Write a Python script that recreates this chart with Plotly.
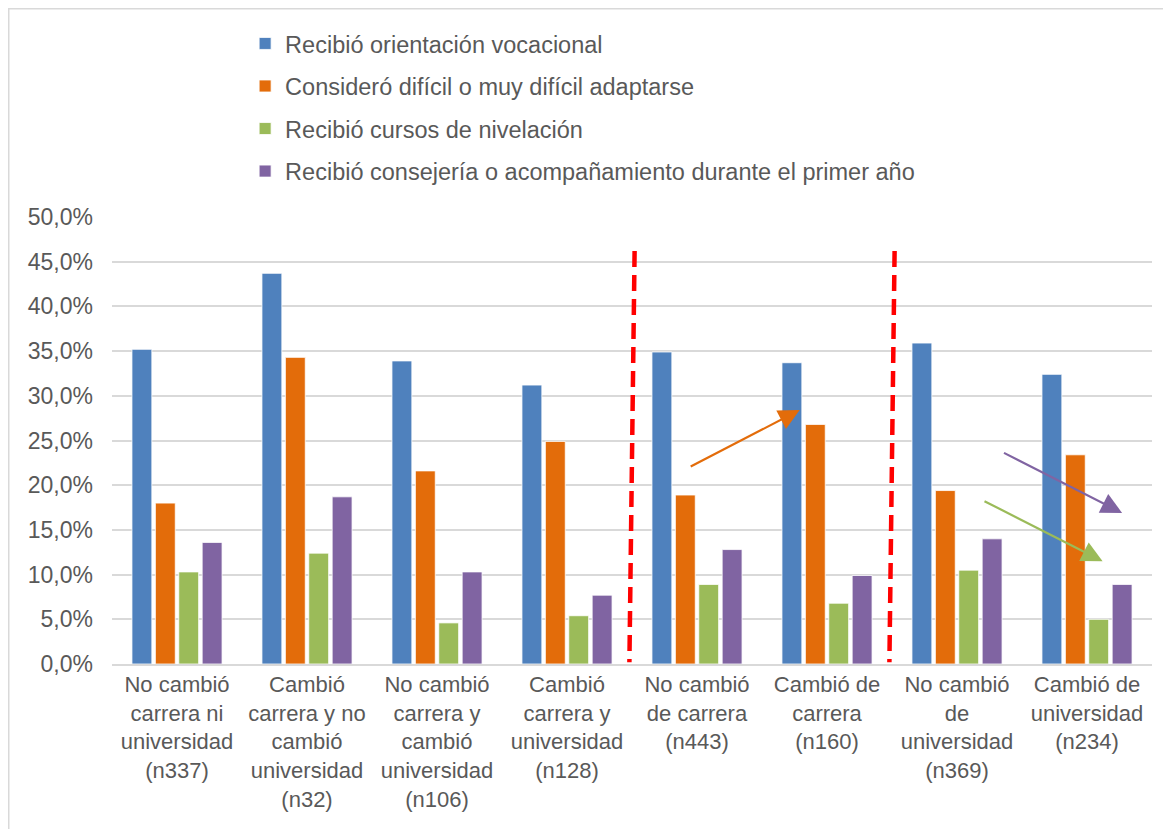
import plotly.graph_objects as go

categories = [
    "No cambió<br>carrera ni<br>universidad<br>(n337)",
    "Cambió<br>carrera y no<br>cambió<br>universidad<br>(n32)",
    "No cambió<br>carrera y<br>cambió<br>universidad<br>(n106)",
    "Cambió<br>carrera y<br>universidad<br>(n128)",
    "No cambió<br>de carrera<br>(n443)",
    "Cambió de<br>carrera<br>(n160)",
    "No cambió<br>de<br>universidad<br>(n369)",
    "Cambió de<br>universidad<br>(n234)",
]
series_names = [
    "Recibió orientación vocacional",
    "Consideró difícil o muy difícil adaptarse",
    "Recibió cursos de nivelación",
    "Recibió consejería o acompañamiento durante el primer año",
]
orientacion = [35.2, 43.7, 33.9, 31.2, 34.9, 33.7, 35.9, 32.4]
dificil = [18.0, 34.3, 21.6, 24.9, 18.9, 26.8, 19.4, 23.4]
nivelacion = [10.3, 12.4, 4.6, 5.4, 8.9, 6.8, 10.5, 5.0]
consejeria = [13.6, 18.7, 10.3, 7.7, 12.8, 9.9, 14.0, 8.9]
colors = ["#4F81BD", "#E36C0A", "#9BBB59", "#8064A2"]

x_idx = list(range(len(categories)))
fig = go.Figure()
for i, (name, vals) in enumerate(zip(series_names, [orientacion, dificil, nivelacion, consejeria])):
    fig.add_trace(go.Bar(
        x=x_idx, y=vals, name=name, legendgroup=f"g{i}",
        marker=dict(color=colors[i], line=dict(color="white", width=0.8)),
    ))

# red dashed separators between groups
for xs in [3.5, 5.5]:
    fig.add_shape(type="line", xref="x", yref="y", x0=xs + 0.02, y0=46.2, x1=xs - 0.02, y1=0.2,
                  line=dict(color="#FF0000", width=4.5, dash="16px,8px"))

# arrows
arrows = [
    (3.94, 22.0, 4.79, 28.4, "#E36C0A"),
    (6.35, 23.7, 7.27, 16.9, "#8064A2"),
    (6.20, 18.3, 7.12, 11.5, "#9BBB59"),
]
for x0, y0, x1, y1, c in arrows:
    fig.add_annotation(x=x1, y=y1, ax=x0, ay=y0, xref="x", yref="y", axref="x", ayref="y",
                       text="", showarrow=True, arrowhead=2, arrowsize=1.9, arrowwidth=2.2,
                       arrowcolor=c)

W, H = 1163, 821
L, R, T, B = 104, 19, 209, 165
pw, ph = W - L - R, H - T - B
# outer chart border (at the figure edge)
fig.add_shape(type="rect", xref="paper", yref="paper",
              x0=(0.75 - L) / pw, y0=-(B + 10) / ph, x1=(W - L + 10) / pw, y1=1 + (T - 0.75) / ph,
              line=dict(color="#D9D9D9", width=1.5), fillcolor="rgba(0,0,0,0)", layer="below")

font_color = "#595959"
fig.update_layout(
    width=W, height=H,
    margin=dict(l=L, r=R, t=T, b=B),
    paper_bgcolor="white", plot_bgcolor="white",
    font=dict(family="Liberation Sans, Arial, sans-serif", size=22, color=font_color),
    barmode="group", bargap=0.28, bargroupgap=0.15,
    separators=",.",
    showlegend=True,
    legend=dict(x=0.128, y=1.437, xanchor="left", yanchor="top", orientation="v",
                tracegroupgap=9, font=dict(size=23.5, color=font_color),
                bgcolor="rgba(0,0,0,0)"),
    xaxis=dict(tickmode="array", tickvals=x_idx, ticktext=categories, range=[-0.5, 7.5],
               showline=True, linecolor="#D9D9D9", linewidth=1.5, ticks="", showgrid=False,
               tickangle=0, tickfont=dict(size=22, color=font_color)),
    yaxis=dict(range=[0, 50], dtick=5, tickformat=".1f", ticksuffix="%",
               showgrid=True, gridcolor="#D9D9D9", gridwidth=1.5, zeroline=False,
               showline=False, ticks="", ticklabelstandoff=18,
               tickfont=dict(size=23, color=font_color)),
)

fig.write_html("out.html")
